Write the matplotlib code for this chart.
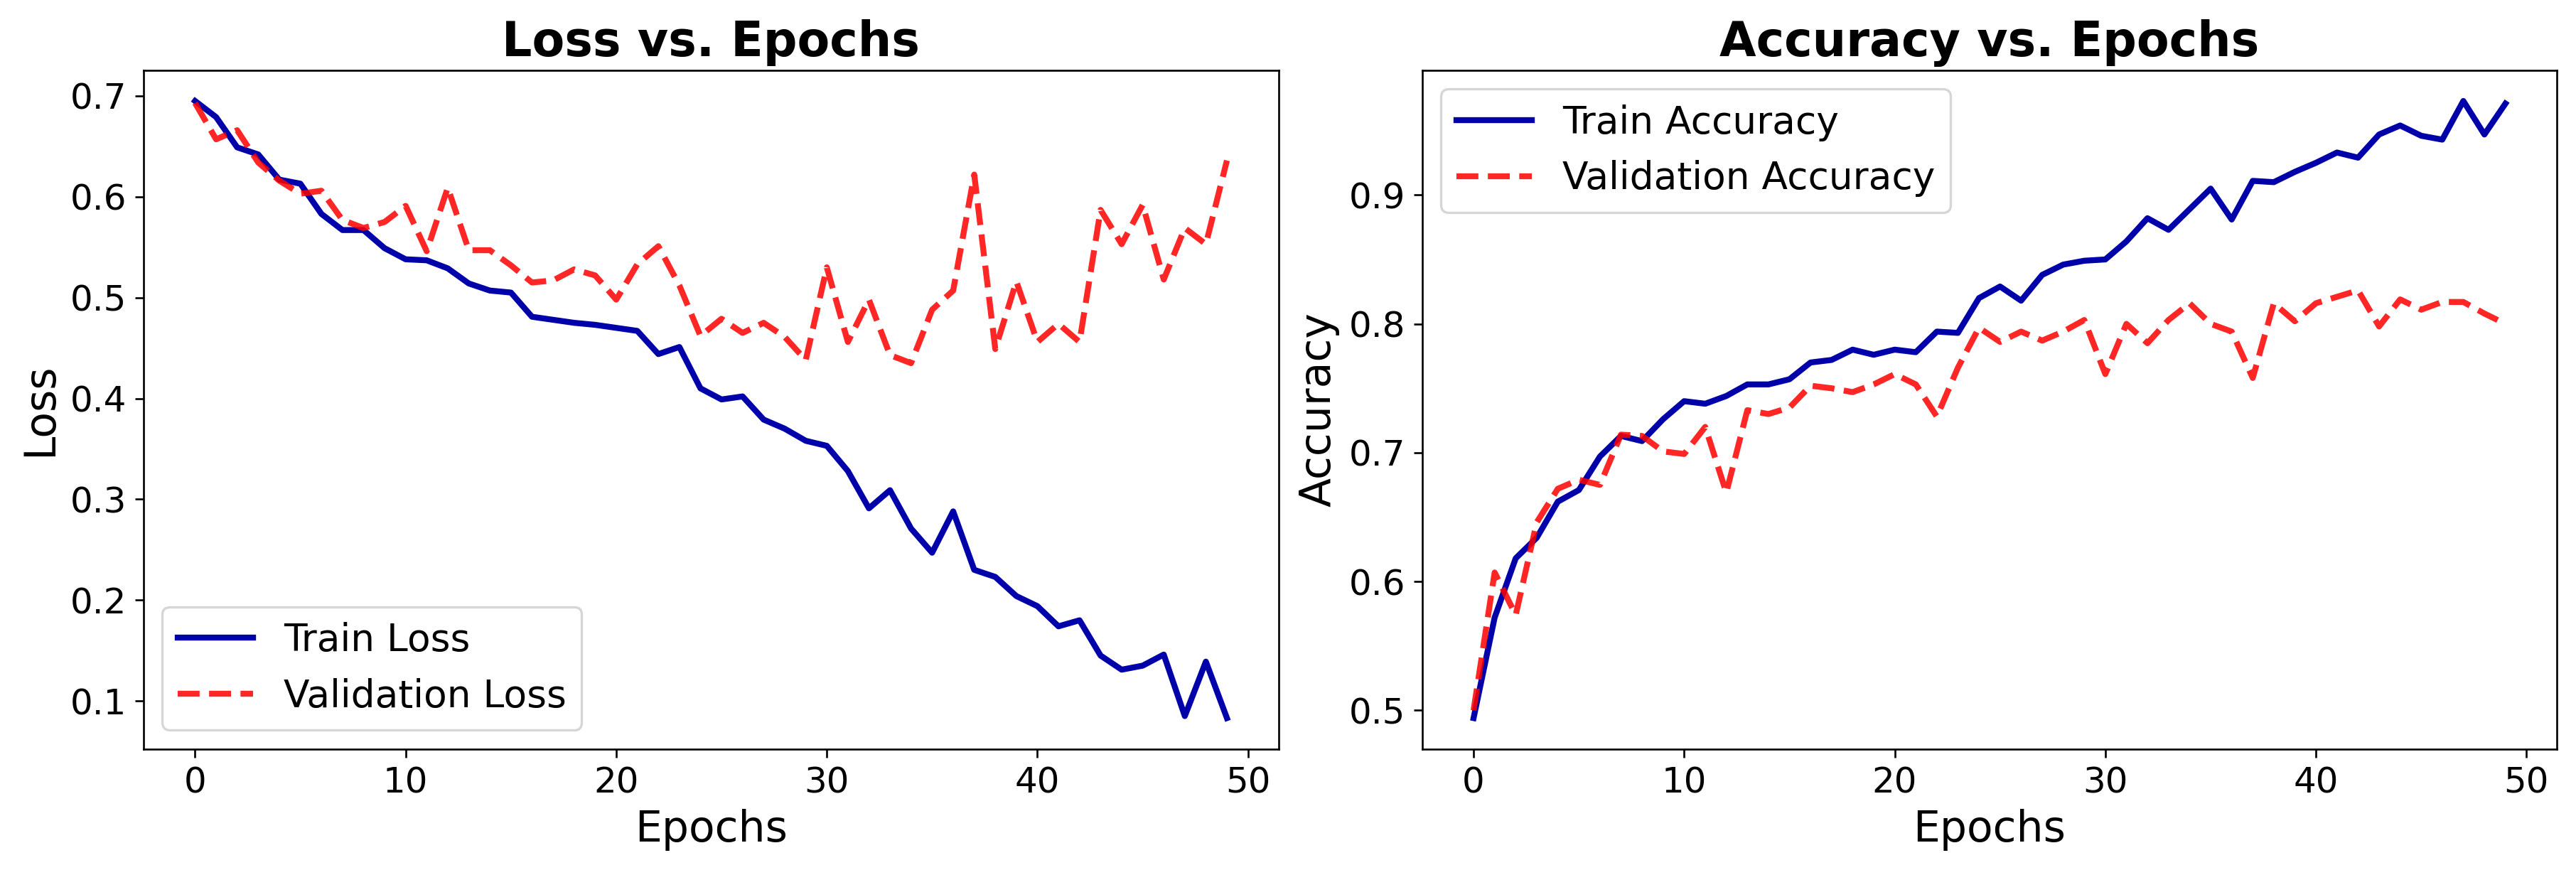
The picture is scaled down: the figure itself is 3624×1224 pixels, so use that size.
import matplotlib
matplotlib.use("Agg")
import matplotlib.pyplot as plt

# values
epochs = list(range(50))

train_loss = [0.695, 0.679, 0.649, 0.642, 0.617, 0.613, 0.583, 0.567, 0.567, 0.549,
              0.538, 0.537, 0.529, 0.514, 0.507, 0.505, 0.481, 0.478, 0.475, 0.473,
              0.470, 0.467, 0.444, 0.451, 0.410, 0.399, 0.402, 0.379, 0.370, 0.358,
              0.353, 0.328, 0.291, 0.309, 0.271, 0.247, 0.288, 0.230, 0.223, 0.204,
              0.194, 0.174, 0.180, 0.145, 0.131, 0.135, 0.146, 0.085, 0.139, 0.083]

val_loss = [0.693, 0.657, 0.666, 0.634, 0.616, 0.603, 0.606, 0.577, 0.569, 0.575,
            0.591, 0.546, 0.609, 0.547, 0.547, 0.532, 0.515, 0.517, 0.528, 0.522,
            0.498, 0.533, 0.551, 0.512, 0.462, 0.479, 0.465, 0.475, 0.461, 0.438,
            0.530, 0.456, 0.498, 0.443, 0.435, 0.488, 0.507, 0.622, 0.449, 0.516,
            0.456, 0.474, 0.456, 0.587, 0.553, 0.592, 0.518, 0.569, 0.553, 0.636]

train_acc = [0.494, 0.572, 0.618, 0.634, 0.662, 0.671, 0.697, 0.713, 0.709, 0.726,
             0.740, 0.738, 0.744, 0.753, 0.753, 0.757, 0.770, 0.772, 0.780, 0.776,
             0.780, 0.778, 0.794, 0.793, 0.820, 0.829, 0.818, 0.838, 0.846, 0.849,
             0.850, 0.864, 0.882, 0.873, 0.889, 0.905, 0.881, 0.911, 0.910, 0.918,
             0.925, 0.933, 0.929, 0.947, 0.954, 0.946, 0.943, 0.973, 0.947, 0.971]

val_acc = [0.500, 0.607, 0.574, 0.646, 0.672, 0.679, 0.675, 0.714, 0.713, 0.701,
           0.699, 0.720, 0.669, 0.733, 0.730, 0.735, 0.752, 0.750, 0.747, 0.753,
           0.761, 0.753, 0.728, 0.766, 0.797, 0.786, 0.794, 0.787, 0.794, 0.803,
           0.761, 0.800, 0.785, 0.803, 0.816, 0.800, 0.794, 0.758, 0.816, 0.802,
           0.816, 0.821, 0.826, 0.798, 0.819, 0.811, 0.817, 0.817, 0.808, 0.800]

train_color = "#0000AA"
val_color = "red"

fig, (ax1, ax2) = plt.subplots(1, 2, figsize=(15.1, 5.1), dpi=240)

ax1.plot(epochs, train_loss, color=train_color, linewidth=2.5, label="Train Loss")
ax1.plot(epochs, val_loss, color=val_color, linestyle="--", linewidth=2.5, alpha=0.85,
         label="Validation Loss")
ax1.set_title("Loss vs. Epochs", fontsize=20, fontweight="bold")
ax1.set_xlabel("Epochs", fontsize=18)
ax1.set_ylabel("Loss", fontsize=18)
ax1.tick_params(labelsize=15)
ax1.legend(fontsize=16, loc="lower left")

ax2.plot(epochs, train_acc, color=train_color, linewidth=2.5, label="Train Accuracy")
ax2.plot(epochs, val_acc, color=val_color, linestyle="--", linewidth=2.5, alpha=0.85,
         label="Validation Accuracy")
ax2.set_title("Accuracy vs. Epochs", fontsize=20, fontweight="bold")
ax2.set_xlabel("Epochs", fontsize=18)
ax2.set_ylabel("Accuracy", fontsize=18)
ax2.tick_params(labelsize=15)
ax2.legend(fontsize=16, loc="upper left")

plt.tight_layout(pad=0.8)
plt.savefig("out.png", dpi=240)
